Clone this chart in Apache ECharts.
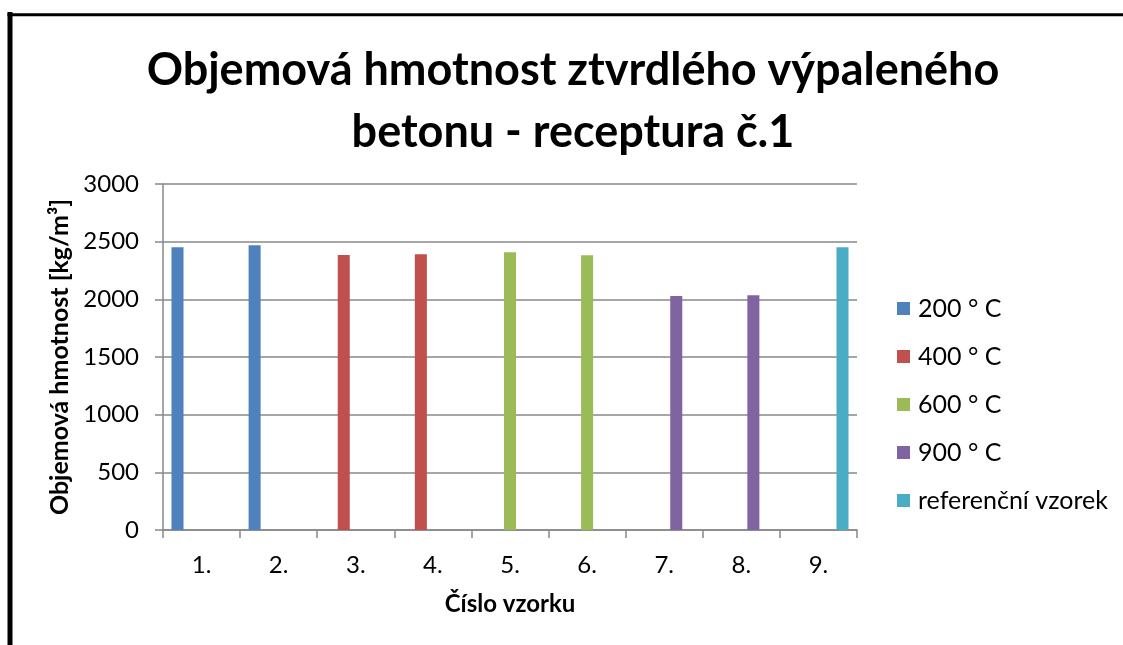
<!DOCTYPE html>
<html>
<head>
<meta charset="utf-8">
<script src="https://cdn.jsdelivr.net/npm/echarts@6/dist/echarts.min.js"></script>
<style>
html,body{margin:0;padding:0;background:#fff;}
#chart{width:1123px;height:645px;}
</style>
</head>
<body>
<div id="chart"></div>
<script>
const titleText = 'Objemová hmotnost ztvrdlého výpaleného\nbetonu - receptura č.1';
const categories = ['1.', '2.', '3.', '4.', '5.', '6.', '7.', '8.', '9.'];
const seriesNames = ['200 ° C', '400 ° C', '600 ° C', '900 ° C', 'referenční vzorek'];
const s200 = [2451, 2468, null, null, null, null, null, null, null];
const s400 = [null, null, 2384, 2390, null, null, null, null, null];
const s600 = [null, null, null, null, 2408, 2382, null, null, null];
const s900 = [null, null, null, null, null, null, 2029, 2035, null];
const sRef = [null, null, null, null, null, null, null, null, 2451];
const yTicks = [0, 500, 1000, 1500, 2000, 2500, 3000];
const yName = 'Objemová hmotnost [kg/m³]';
const xName = 'Číslo vzorku';

const colors = ['#4F81BD', '#C0504D', '#9BBB59', '#8064A2', '#4BACC6'];
const seriesData = [s200, s400, s600, s900, sRef];
const FONT = 'Lato, "Open Sans", sans-serif';
const gridColor = '#888888';

const chart = echarts.init(document.getElementById('chart'), null, {renderer: 'canvas'});
chart.setOption({
  animation: false,
  backgroundColor: '#ffffff',
  color: colors,
  title: {
    text: titleText,
    left: 573,
    top: 39,
    textAlign: 'center',
    padding: 0,
    textStyle: {fontFamily: FONT, fontSize: 45, fontWeight: 'bold', color: '#000', lineHeight: 62}
  },
  legend: {
    orient: 'vertical',
    left: 897,
    top: 296,
    padding: 0,
    itemWidth: 13,
    itemHeight: 13,
    itemGap: 23,
    icon: 'rect',
    data: seriesNames,
    textStyle: {fontFamily: FONT, fontSize: 25, color: '#000', lineHeight: 25, padding: [0, 0, 0, 3]}
  },
  grid: {left: 163, right: 266, top: 184, bottom: 115, containLabel: false},
  xAxis: {
    type: 'category',
    data: categories,
    name: xName,
    nameLocation: 'middle',
    nameGap: 62,
    nameTextStyle: {fontFamily: FONT, fontSize: 24, fontWeight: 'bold', color: '#000'},
    axisLine: {lineStyle: {color: gridColor, width: 1.5}},
    axisTick: {show: true, length: 8, inside: false, alignWithLabel: false, lineStyle: {color: gridColor, width: 1.5}},
    axisLabel: {fontFamily: FONT, fontSize: 24, color: '#000', margin: 23}
  },
  yAxis: {
    type: 'value',
    min: yTicks[0],
    max: yTicks[yTicks.length - 1],
    interval: yTicks[1] - yTicks[0],
    name: yName,
    nameLocation: 'middle',
    nameGap: 89,
    nameTextStyle: {fontFamily: FONT, fontSize: 25, fontWeight: 'bold', color: '#000'},
    axisLine: {show: true, lineStyle: {color: gridColor, width: 1.5}},
    axisTick: {show: true, length: 8, lineStyle: {color: gridColor, width: 1.5}},
    axisLabel: {fontFamily: FONT, fontSize: 24, color: '#000', margin: 24, formatter: v => String(v)},
    splitLine: {show: true, lineStyle: {color: gridColor, width: 1.5}}
  },
  series: seriesNames.map((n, i) => ({
    name: n,
    type: 'bar',
    data: seriesData[i],
    barGap: '0%',
    barCategoryGap: '22%',
    itemStyle: {color: colors[i]}
  })),
  graphic: [
    {type: 'line', shape: {x1: 10, y1: 12, x2: 10, y2: 700}, style: {stroke: '#000', lineWidth: 5}},
    {type: 'line', shape: {x1: 7.5, y1: 14.7, x2: 1200, y2: 14.7}, style: {stroke: '#000', lineWidth: 3}}
  ]
});
</script>
</body>
</html>
